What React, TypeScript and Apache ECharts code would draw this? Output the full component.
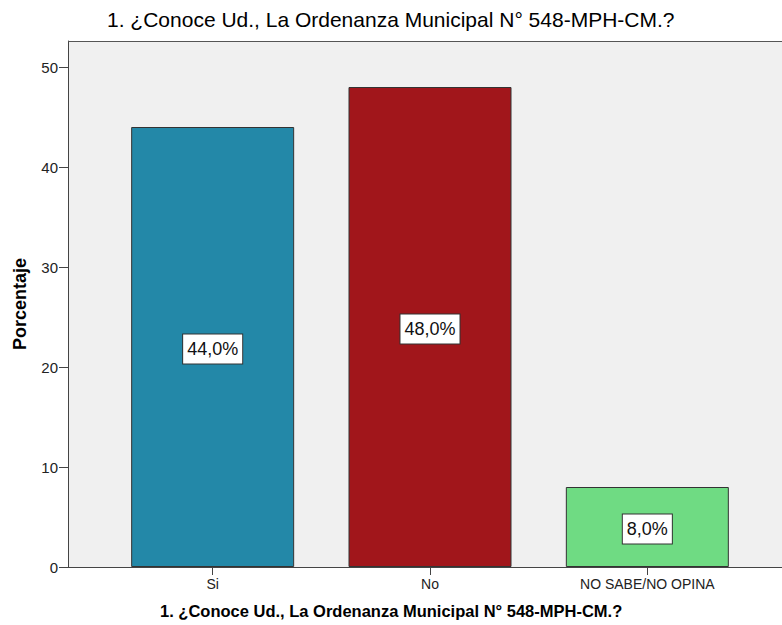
import React, { useEffect, useRef } from "react";
import * as echarts from "echarts";

const categories = ["Si", "No", "NO SABE/NO OPINA"];
const values = [44.0, 48.0, 8.0];
const barColors = ["#2388A8", "#A1161B", "#6FDB83"];
const yTicks = [0, 10, 20, 30, 40, 50];
const titleText = "1. ¿Conoce Ud., La Ordenanza Municipal N° 548-MPH-CM.?";

export default function App() {
  const ref = useRef<HTMLDivElement>(null);
  useEffect(() => {
    if (!ref.current) return;
    const chart = echarts.init(ref.current, null, { renderer: "svg" });
    const font = "Liberation Sans, Arial, sans-serif";
    chart.setOption({
      animation: false,
      backgroundColor: "#ffffff",
      title: [
        {
          text: titleText,
          left: 107,
          top: 9,
          padding: 0,
          textStyle: { fontFamily: font, fontSize: 21, fontWeight: "normal", color: "#000" },
        },
        {
          text: titleText,
          left: 160,
          top: 602,
          padding: 0,
          textStyle: { fontFamily: font, fontSize: 16.5, fontWeight: "bold", color: "#000" },
        },
      ],
      graphic: [
        {
          type: "rect",
          z: -10,
          silent: true,
          shape: { x: 68, y: 41, width: 714, height: 526 },
          style: { fill: "#F0F0F0" },
        },
        {
          type: "line",
          z: 10,
          silent: true,
          shape: { x1: 68, y1: 41.5, x2: 782, y2: 41.5 },
          style: { stroke: "#555", lineWidth: 1 },
        },
        {
          type: "line",
          z: 10,
          silent: true,
          shape: { x1: 68, y1: 567.5, x2: 782, y2: 567.5 },
          style: { stroke: "#444", lineWidth: 1 },
        },
      ],
      grid: { left: 104, right: 26, top: 41, bottom: 58, containLabel: false },
      xAxis: {
        type: "category",
        data: categories,
        axisLine: { show: false },
        axisTick: { show: true, alignWithLabel: true, length: 8, lineStyle: { color: "#444" } },
        axisLabel: { fontFamily: font, fontSize: 14, color: "#222", margin: 10 },
        splitLine: { show: false },
      },
      yAxis: {
        type: "value",
        min: 0,
        max: 52.6,
        interval: 10,
        offset: 36,
        name: "Porcentaje",
        nameLocation: "middle",
        nameGap: 39,
        nameTextStyle: { fontFamily: font, fontSize: 18, fontWeight: "bold", color: "#000" },
        axisLine: { show: true, lineStyle: { color: "#444" } },
        axisTick: { show: true, length: 9, customValues: yTicks, lineStyle: { color: "#444" } },
        axisLabel: { fontFamily: font, fontSize: 15, color: "#222", margin: 10, customValues: yTicks },
        splitLine: { show: false },
      },
      series: [
        {
          type: "bar",
          barCategoryGap: "25%",
          data: values.map((v, i) => ({
            value: v,
            itemStyle: { color: barColors[i], borderColor: "#333", borderWidth: 1 },
          })),
          label: {
            show: true,
            position: "inside",
            offset: [0, 2],
            formatter: (p: any) => p.value.toFixed(1).replace(".", ",") + "%",
            fontFamily: font,
            fontSize: 18,
            color: "#111",
            backgroundColor: "#ffffff",
            borderColor: "#333",
            borderWidth: 1,
            padding: [6, 4, 5, 4],
          },
        },
      ],
    });
    return () => chart.dispose();
  }, []);
  return <div ref={ref} style={{ width: 782, height: 625, position: "absolute", left: 0, top: 0 }} />;
}
